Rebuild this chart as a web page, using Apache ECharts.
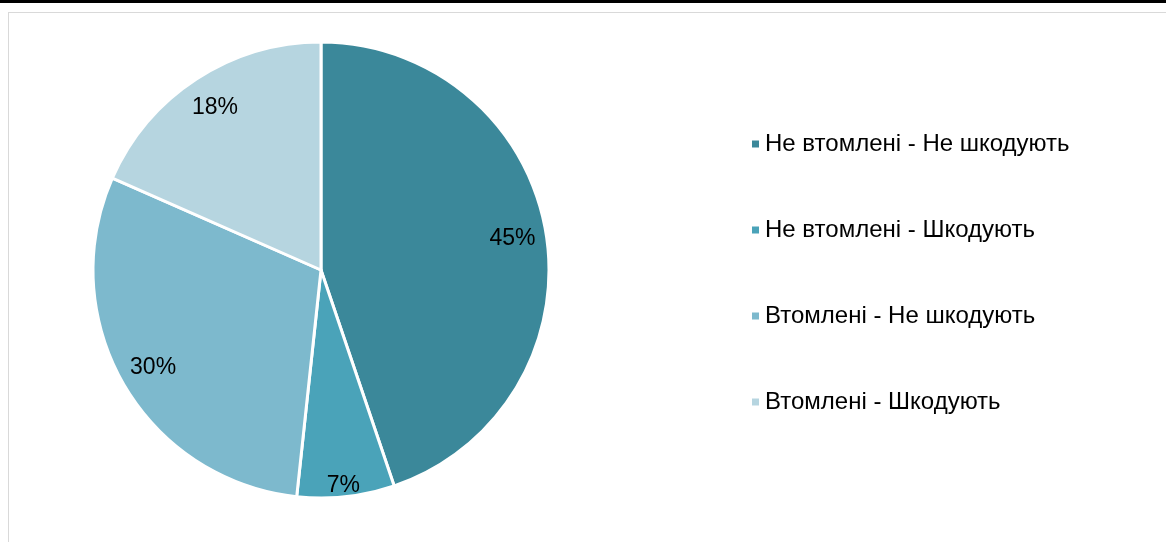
<!DOCTYPE html>
<html><head><meta charset="utf-8">
<script src="https://cdn.jsdelivr.net/npm/echarts@6/dist/echarts.min.js"></script>
<style>
html,body{margin:0;padding:0;background:#fff;width:1166px;height:542px;overflow:hidden;}
#topbar{position:absolute;left:0;top:0;width:1166px;height:3px;background:#000;}
#frame{position:absolute;left:8px;top:12px;width:1200px;height:600px;border:1px solid #d9d9d9;box-sizing:border-box;}
#chart{position:absolute;left:0;top:0;width:1166px;height:542px;}
</style></head><body>
<div id="topbar"></div><div id="frame"></div>
<div id="chart"></div>
<script>
const categories = ['Не втомлені - Не шкодують','Не втомлені - Шкодують','Втомлені - Не шкодують','Втомлені - Шкодують'];
const values = [44.8, 6.9, 29.9, 18.4];
const colors = ['#3b889a','#4aa3b9','#7db9cd','#b6d5e0'];

const chart = echarts.init(document.getElementById('chart'));
const data = categories.map((c,i)=>({name:c,value:values[i],itemStyle:{color:colors[i]}}));
chart.setOption({
  animation:false,
  legend:{
    orient:'vertical', left:745, top:127, icon:'rect', itemWidth:9, itemHeight:9, itemGap:62,
    textStyle:{fontFamily:'Liberation Sans, Arial', fontSize:24, color:'#000', lineHeight:24},
    data:categories
  },
  series:[
    {type:'pie', center:[321,270], radius:[0,228], startAngle:90, clockwise:true,
     data:data, label:{show:false}, labelLine:{show:false},
     itemStyle:{borderColor:'#fff', borderWidth:3}, emphasis:{disabled:true}},
    {type:'pie', center:[321,270], radius:[154,228], startAngle:90, clockwise:true, silent:true,
     percentPrecision:0,
     data:categories.map((c,i)=>({name:c,value:values[i], label: i===1?{offset:[1,23]}:{}})),
     itemStyle:{color:'transparent'}, labelLine:{show:false}, legendHoverLink:false,
     label:{show:true, position:'inside', formatter:'{d}%', fontFamily:'Liberation Sans, Arial', fontSize:23, color:'#000'}}
  ]
});
</script>
</body></html>
